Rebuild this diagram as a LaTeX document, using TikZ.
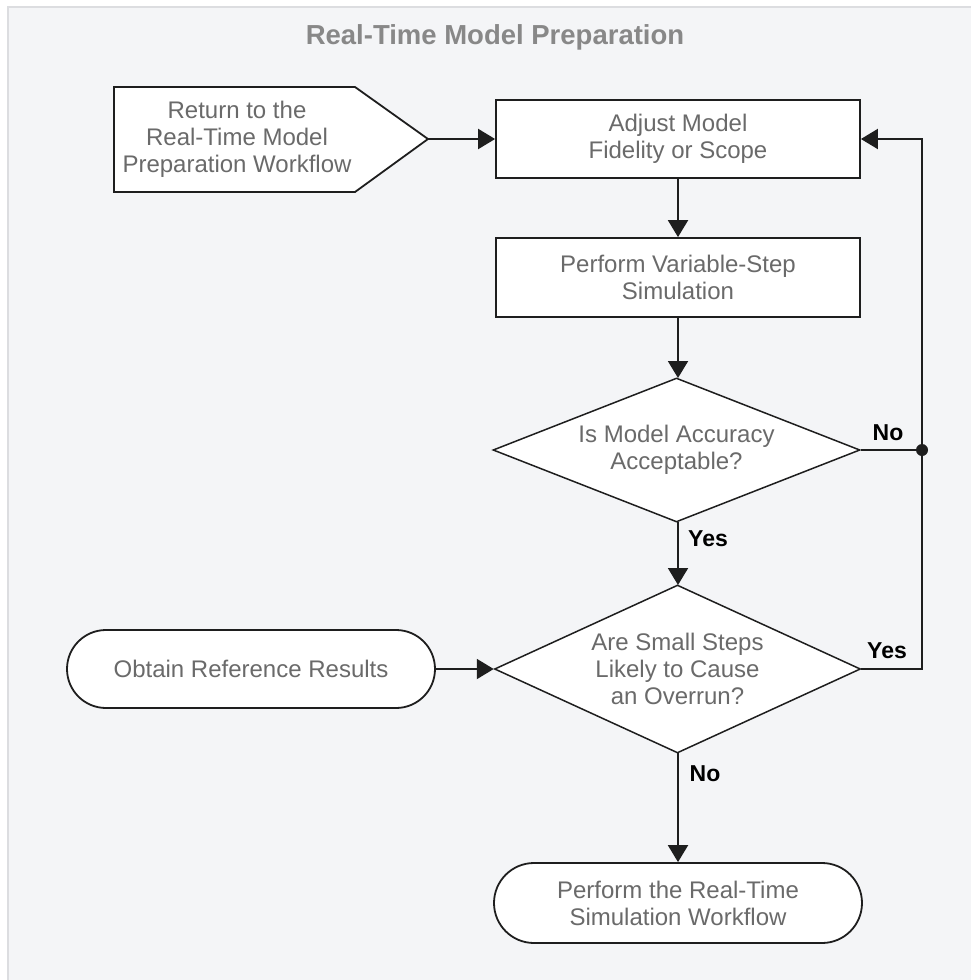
\documentclass[tikz,border=0pt]{standalone}
\usepackage{fontspec}
\setmainfont{Liberation Sans}
\usetikzlibrary{arrows.meta,shapes.geometric,calc}
\definecolor{bgc}{HTML}{F4F5F7}
\definecolor{bgline}{HTML}{DCDDE0}
\definecolor{txt}{HTML}{6A6A6A}
\definecolor{ttl}{HTML}{888888}
\definecolor{ln}{HTML}{1E1E1E}
\begin{document}
\begin{tikzpicture}[x=1pt,y=-1pt,
  box/.style={draw=ln,line width=1.8pt,fill=white,rectangle,minimum width=364pt,minimum height=78pt,inner sep=0pt,align=center,text=txt,font=\fontsize{24}{27}\selectfont},
  term/.style={box,rounded corners=39pt,minimum width=368pt},
  dec/.style={draw=ln,line width=1.5pt,fill=white,diamond,inner sep=0pt,align=center,text=txt,font=\fontsize{24}{27}\selectfont},
  conn/.style={draw=ln,line width=2pt,-{Triangle[length=17pt,width=20pt]}},
  plain/.style={draw=ln,line width=2pt},
  lbl/.style={font=\bfseries\fontsize{23}{27}\selectfont,text=black,inner sep=0pt}]
\useasboundingbox (0,0) rectangle (970,980);
\fill[white] (0,0) rectangle (970,980);
\draw[bgline,fill=bgc,line width=1.5pt] (8,7) rectangle (972,982);
\node[font=\bfseries\fontsize{27.5}{30}\selectfont,text=ttl] (title) at (495,37.5) {Real-Time Model Preparation};
% pentagon
\draw[ln,line width=1.8pt,fill=white] (114,87) -- (355,87) -- (428,139) -- (355,192) -- (114,192) -- cycle;
\coordinate (rettip) at (428,139);
\node[align=center,text=txt,font=\fontsize{24}{27}\selectfont] (ret) at (237,139) {Return to the\\Real-Time Model\\Preparation Workflow};
\node[box] (adj) at (678,139) {Adjust Model\\Fidelity or Scope};
\node[box,minimum height=79pt] (sim) at (678,277.5) {Perform Variable-Step\\Simulation};
\node[dec,aspect=2.55,minimum width=367pt,minimum height=144pt] (d1) at (676.5,450) {Is Model Accuracy\\Acceptable?};
\node[dec,aspect=2.2,minimum width=366pt,minimum height=168pt] (d2) at (677.5,669) {Are Small Steps\\Likely to Cause\\an Overrun?};
\node[term] (obt) at (251,669) {Obtain Reference Results};
\node[term,minimum height=80pt,rounded corners=40pt] (fin) at (678,903) {Perform the Real-Time\\Simulation Workflow};
\coordinate (jn) at (922,450);
% connectors
\draw[conn] (rettip) -- (adj.west);
\draw[conn] (adj.south) -- (sim.north);
\draw[conn] (sim.south) -- (678,378);
\draw[conn] (678,522) -- (678,585);
\draw[plain] (d1.east) -- (jn);
\draw[conn] (d2.east) -| (jn) |- (adj.east);
\fill[ln] (jn) circle (6pt);
\draw[conn] (obt.east) -- (d2.west);
\draw[conn] (678,753) -- (fin.north);
% labels
\node[lbl] (lno1) at (888,433) {No};
\node[lbl] (lyes1) at (708,539) {Yes};
\node[lbl] (lyes2) at (887,651) {Yes};
\node[lbl] (lno2) at (705,774) {No};
\end{tikzpicture}
\end{document}
